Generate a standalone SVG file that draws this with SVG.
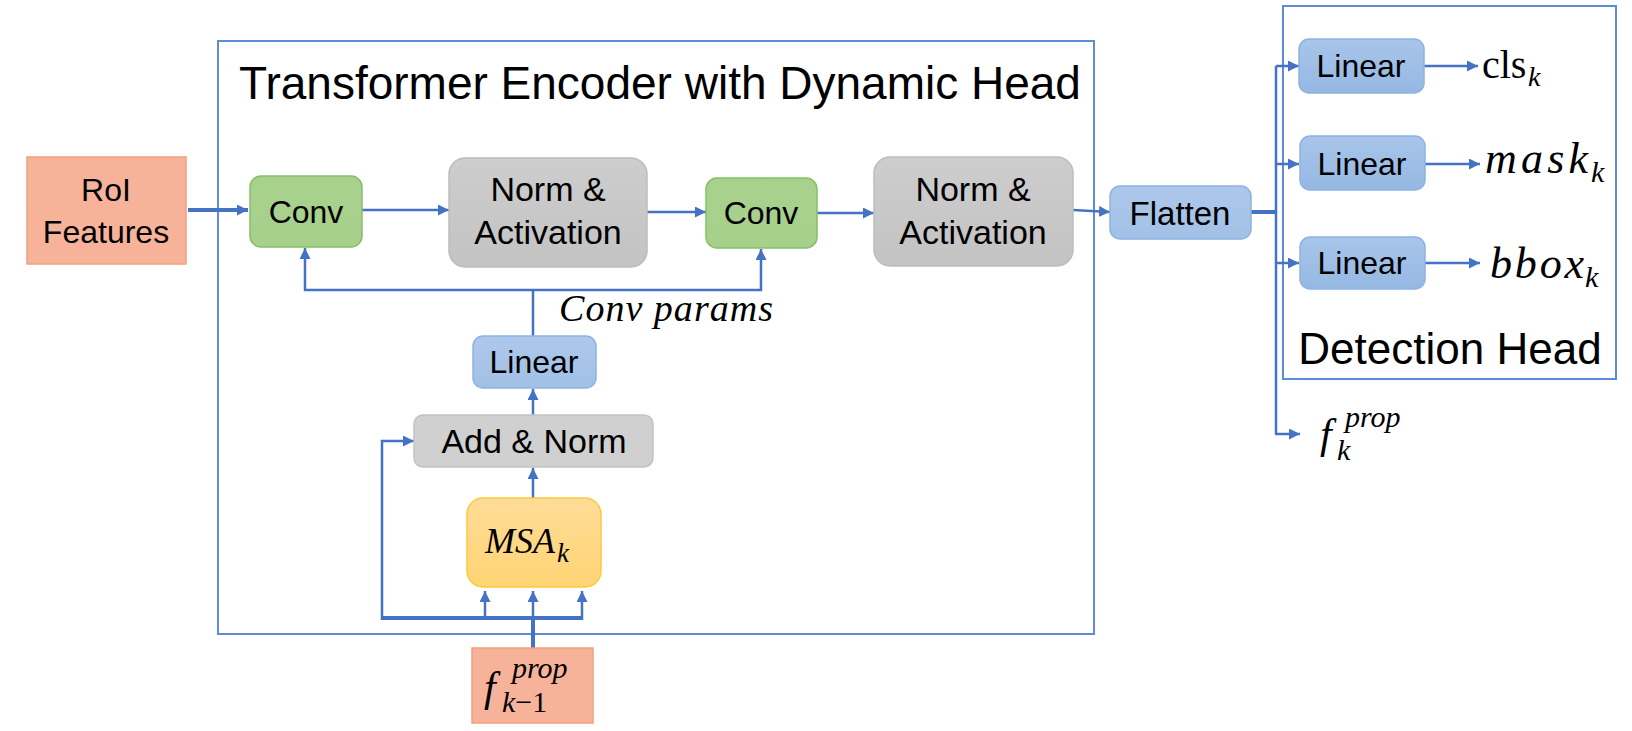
<svg xmlns="http://www.w3.org/2000/svg" width="1632" height="731" viewBox="0 0 1632 731">
<style>
.frame{fill:none;stroke:#5B8BD9;stroke-width:2}
.lbl{font-family:"Liberation Sans","Noto Sans",sans-serif;fill:#000;text-anchor:middle}
.math{font-family:"Liberation Serif","DejaVu Serif",serif;font-style:italic;fill:#000}
.up{font-family:"Liberation Serif","DejaVu Serif",serif;fill:#000}
.c{fill:none;stroke:#4472C4;stroke-width:2.5}
.ck{fill:none;stroke:#4472C4;stroke-width:4}
</style>
<defs>
<marker id="ah" viewBox="0 0 10 10" refX="10" refY="5" markerWidth="11" markerHeight="11" markerUnits="userSpaceOnUse" orient="auto">
<path d="M0,0 L10,5 L0,10 z" fill="#4472C4"/>
</marker>
<linearGradient id="gGray" x1="0" y1="0" x2="0" y2="1"><stop offset="0" stop-color="#CDCDCD"/><stop offset="1" stop-color="#C3C3C3"/></linearGradient>
<linearGradient id="gBlue" x1="0" y1="0" x2="0" y2="1"><stop offset="0" stop-color="#ADC8EB"/><stop offset="1" stop-color="#A2C0E6"/></linearGradient>
<linearGradient id="gBlue2" x1="0" y1="0" x2="0" y2="1"><stop offset="0" stop-color="#A8C5EA"/><stop offset="1" stop-color="#95B8E3"/></linearGradient>
<linearGradient id="gGreen" x1="0" y1="0" x2="0" y2="1"><stop offset="0" stop-color="#A9D18E"/><stop offset="1" stop-color="#A6D08B"/></linearGradient>
<linearGradient id="gYel" x1="0" y1="0" x2="0" y2="1"><stop offset="0" stop-color="#FFDC98"/><stop offset="1" stop-color="#FFD474"/></linearGradient>
</defs>

<g id="encoder-frame">
<rect class="frame" x="218" y="41" width="876" height="593"/>
<text class="lbl" x="660" y="99" font-size="46">Transformer Encoder with Dynamic Head</text>
</g>
<g id="detection-frame">
<rect class="frame" x="1283" y="6" width="333" height="373"/>
<text class="lbl" x="1450" y="364" font-size="44">Detection Head</text>
</g>

<g id="connectors">
<line class="ck" x1="188" y1="210" x2="248" y2="210" marker-end="url(#ah)"/>
<line class="c" x1="362" y1="210" x2="449" y2="210" marker-end="url(#ah)"/>
<line class="c" x1="647" y1="212" x2="706" y2="212" marker-end="url(#ah)"/>
<line class="c" x1="817" y1="213" x2="874" y2="213" marker-end="url(#ah)"/>
<line class="c" x1="1073" y1="210" x2="1110" y2="212" marker-end="url(#ah)"/>
<path class="c" d="M533,336 V290"/>
<path class="c" d="M533,290 H305 V248" marker-end="url(#ah)"/>
<path class="c" d="M533,290 H761 V249" marker-end="url(#ah)"/>
<line class="c" x1="533" y1="415" x2="533" y2="389" marker-end="url(#ah)"/>
<line class="c" x1="533" y1="498" x2="533" y2="468" marker-end="url(#ah)"/>
<path class="ck" d="M533,648 V618"/>
<path class="ck" d="M382,618 H582"/>
<line class="c" x1="533" y1="618" x2="533" y2="591" stroke-width="3.5" marker-end="url(#ah)"/>
<line class="c" x1="485" y1="618" x2="485" y2="591" stroke-width="3.5" marker-end="url(#ah)"/>
<line class="c" x1="582" y1="620" x2="582" y2="591" stroke-width="3.5" marker-end="url(#ah)"/>
<path class="c" d="M382,620 V441 H414" stroke-width="3.5" marker-end="url(#ah)"/>
<path class="ck" d="M1251,212 H1276"/>
<path class="c" d="M1276,66 V434" stroke-width="3.5"/>
<line class="c" x1="1276" y1="66" x2="1299" y2="66" marker-end="url(#ah)"/>
<line class="c" x1="1276" y1="164" x2="1299" y2="164" marker-end="url(#ah)"/>
<line class="c" x1="1276" y1="263" x2="1299" y2="263" marker-end="url(#ah)"/>
<line class="c" x1="1275" y1="434" x2="1300" y2="434" marker-end="url(#ah)"/>
<line class="c" x1="1424" y1="66" x2="1478" y2="66" stroke-width="3" marker-end="url(#ah)"/>
<line class="c" x1="1425" y1="164" x2="1480" y2="164" stroke-width="3" marker-end="url(#ah)"/>
<line class="c" x1="1425" y1="263" x2="1480" y2="263" stroke-width="3" marker-end="url(#ah)"/>
</g>

<g id="roi-features">
<rect x="27" y="157" width="159" height="107" fill="#F7B39A" stroke="#F2A07C" stroke-width="1.5"/>
<text class="lbl" x="106" y="201" font-size="32">RoI</text>
<text class="lbl" x="106" y="243" font-size="32">Features</text>
</g>
<g id="conv1">
<rect x="250" y="176" width="112" height="71" rx="11" fill="url(#gGreen)" stroke="#84C064" stroke-width="1.5"/>
<text class="lbl" x="306" y="223" font-size="32">Conv</text>
</g>
<g id="norm-act1">
<rect x="449" y="158" width="198" height="109" rx="16" fill="url(#gGray)" stroke="#BDBDBD" stroke-width="1.5"/>
<text class="lbl" x="548" y="201" font-size="34">Norm &amp;</text>
<text class="lbl" x="548" y="244" font-size="34">Activation</text>
</g>
<g id="conv2">
<rect x="706" y="178" width="111" height="70" rx="11" fill="url(#gGreen)" stroke="#84C064" stroke-width="1.5"/>
<text class="lbl" x="761" y="224" font-size="32">Conv</text>
</g>
<g id="norm-act2">
<rect x="874" y="157" width="199" height="109" rx="16" fill="url(#gGray)" stroke="#BDBDBD" stroke-width="1.5"/>
<text class="lbl" x="973" y="201" font-size="34">Norm &amp;</text>
<text class="lbl" x="973" y="244" font-size="34">Activation</text>
</g>
<g id="conv-params-label">
<text class="math" x="559" y="321" font-size="38" textLength="214" lengthAdjust="spacing">Conv params</text>
</g>
<g id="linear-enc">
<rect x="473" y="336" width="123" height="52" rx="10" fill="url(#gBlue)" stroke="#8DB3E2" stroke-width="1.5"/>
<text class="lbl" x="534" y="373" font-size="32">Linear</text>
</g>
<g id="add-norm">
<rect x="414" y="415" width="239" height="52" rx="9" fill="#D0D0D0" stroke="#C2C2C2" stroke-width="1.5"/>
<text class="lbl" x="534" y="453" font-size="34">Add &amp; Norm</text>
</g>
<g id="msa">
<rect x="467" y="498" width="134" height="89" rx="16" fill="url(#gYel)" stroke="#FFC83D" stroke-width="1.5"/>
<text class="math" x="485" y="553" font-size="36" textLength="70" lengthAdjust="spacing">MSA</text>
<text class="math" x="557" y="562" font-size="27">k</text>
</g>
<g id="f-prev">
<rect x="472" y="648" width="121" height="75" fill="#F7B39A" stroke="#F2A07C" stroke-width="1.5"/>
<text class="math" x="484" y="701" font-size="42">f</text>
<text class="math" x="512" y="678" font-size="30">prop</text>
<text class="math" x="502" y="712" font-size="30">k<tspan font-style="normal">−1</tspan></text>
</g>
<g id="flatten">
<rect x="1110" y="186" width="141" height="53" rx="10" fill="url(#gBlue)" stroke="#8DB3E2" stroke-width="1.5"/>
<text class="lbl" x="1180" y="225" font-size="33">Flatten</text>
</g>
<g id="linear-cls">
<rect x="1299" y="39" width="125" height="54" rx="10" fill="url(#gBlue2)" stroke="#8DB3E2" stroke-width="1.5"/>
<text class="lbl" x="1361" y="77" font-size="32">Linear</text>
</g>
<g id="linear-mask">
<rect x="1300" y="136" width="125" height="54" rx="10" fill="url(#gBlue2)" stroke="#8DB3E2" stroke-width="1.5"/>
<text class="lbl" x="1362" y="175" font-size="32">Linear</text>
</g>
<g id="linear-bbox">
<rect x="1300" y="237" width="125" height="52" rx="10" fill="url(#gBlue2)" stroke="#8DB3E2" stroke-width="1.5"/>
<text class="lbl" x="1362" y="274" font-size="32">Linear</text>
</g>
<g id="out-cls">
<text class="up" x="1482" y="78" font-size="40">cls</text>
<text class="math" x="1528" y="86" font-size="28">k</text>
</g>
<g id="out-mask">
<text class="math" x="1485" y="173" font-size="44" textLength="103" lengthAdjust="spacing">mask</text>
<text class="math" x="1591" y="182" font-size="30">k</text>
</g>
<g id="out-bbox">
<text class="math" x="1490" y="278" font-size="44" textLength="94" lengthAdjust="spacing">bbox</text>
<text class="math" x="1585" y="287" font-size="30">k</text>
</g>
<g id="out-fprop">
<text class="math" x="1320" y="448" font-size="42">f</text>
<text class="math" x="1345" y="427" font-size="30">prop</text>
<text class="math" x="1337" y="460" font-size="30">k</text>
</g>
</svg>
